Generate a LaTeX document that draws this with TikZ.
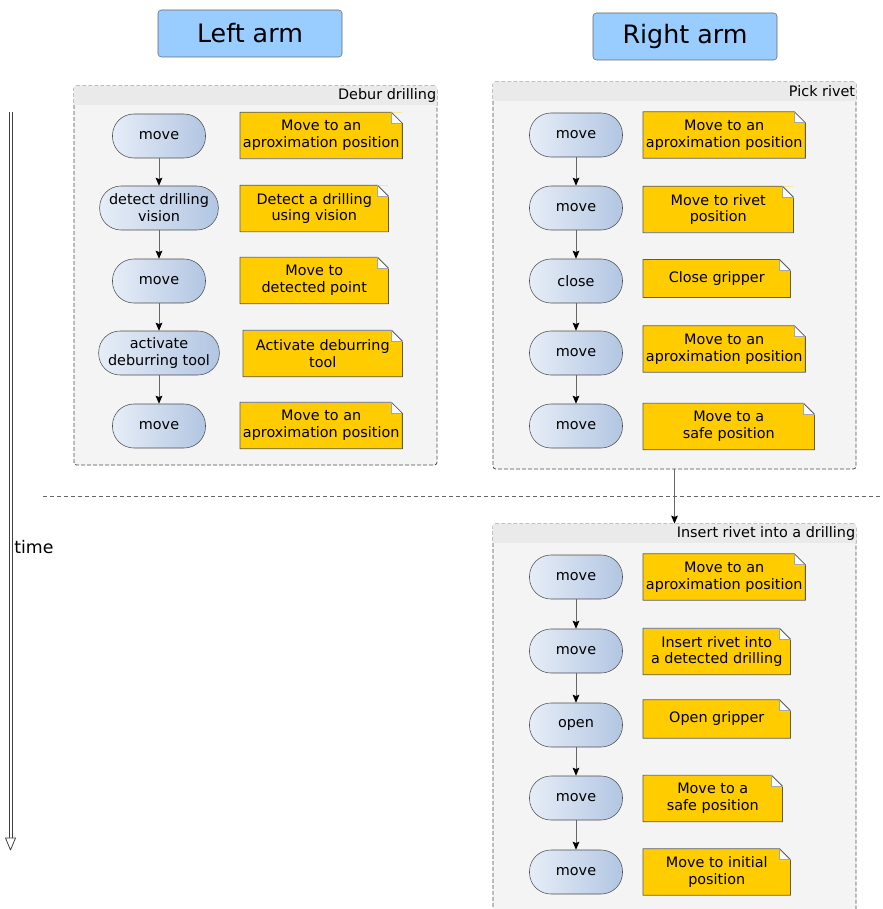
\documentclass[tikz,border=0pt]{standalone}
\usepackage{fontspec}
\setmainfont{DejaVu Sans}
\usetikzlibrary{arrows.meta, fit}

\definecolor{armblue}{HTML}{99CCFF}
\definecolor{actleft}{RGB}{230,237,247}
\definecolor{actright}{RGB}{178,198,226}
\definecolor{noteyellow}{HTML}{FFCC00}
\definecolor{groupbg}{HTML}{F4F4F4}
\definecolor{groupband}{HTML}{EAEAEA}

\begin{document}
\begin{tikzpicture}[
    x=0.75pt, y=-0.75pt,
    armtitle/.style={rectangle, draw=black!60, fill=armblue, rounded corners=2.5pt, minimum width=138pt, minimum height=35.25pt, font=\fontsize{19}{22}\selectfont},
    group/.style={rectangle, draw=black!70, line width=0.6pt, dash pattern=on 3pt off 1.5pt, fill=groupbg, rounded corners=2pt, inner sep=0pt},
    grouplabel/.style={anchor=east, inner sep=0pt, font=\fontsize{10.8}{12.8}\selectfont},
    act/.style={rectangle, rounded corners=16pt, draw=black!70, left color=actleft, right color=actright, minimum width=69.75pt, minimum height=33pt, inner xsep=7pt, align=center, font=\fontsize{10.8}{12.6}\selectfont},
    note/.style={rectangle, fill=noteyellow, anchor=west, align=center, inner sep=2pt, minimum height=34.5pt, font=\fontsize{10.8}{12.6}\selectfont,
        path picture={
            \fill[groupbg] ([shift={(-11,0)}]path picture bounding box.north east) -- (path picture bounding box.north east) -- ([shift={(0,11)}]path picture bounding box.north east) -- cycle;
            \fill[white] ([shift={(-11,0)}]path picture bounding box.north east) -- ([shift={(-11,11)}]path picture bounding box.north east) -- ([shift={(0,11)}]path picture bounding box.north east) -- cycle;
        }},
    noteline/.style={draw=black!65, line width=0.6pt, line join=round},
    foldline/.style={draw=black!35, line width=0.4pt},
    flow/.style={draw=black!60, line width=0.6pt, -{Stealth[color=black, length=6pt, width=5pt, inset=1pt]}},
    timeline/.style={draw=black!75, line width=0.6pt},
    sepline/.style={draw=black!60, line width=0.6pt, dash pattern=on 3pt off 2.25pt}
]
\clip (0,0) rectangle (882,909);

% Arm titles
\node[armtitle] (larm) at (250,33.5) {Left arm};
\node[armtitle] (rarm) at (685,36.5) {Right arm};

% Time axis
\coordinate (tstart) at (10.5,112);
\coordinate (tend) at (10.5,850);
\draw[timeline] ([shift={(-1.5,0)}]tstart) -- ([shift={(-1.5,-12)}]tend);
\draw[timeline] ([shift={(1.5,0)}]tstart) -- ([shift={(1.5,-12)}]tend);
\draw[timeline, line join=round] (tend) -- ++(-5,-12) -- ++(10,0) -- cycle;
\node[anchor=west, inner sep=0pt, font=\fontsize{13}{15}\selectfont] (timelbl) at (14,547) {time};

% Separator
\coordinate (sepL) at (43,496);
\coordinate (sepR) at (882,496);
\draw[sepline] (sepL) -- (sepR);

% Groups
\node[group, fit={(74,86) (437,465)}] (debur) {};
\node[group, fit={(493,82) (856,469)}] (pick) {};
\node[group, fit={(493,524) (856,930)}] (insert) {};
\fill[groupband] ([shift={(0.7,0.7)}]debur.north west) rectangle ([shift={(-0.7,19)}]debur.north east);
\fill[groupband] ([shift={(0.7,0.7)}]pick.north west) rectangle ([shift={(-0.7,19)}]pick.north east);
\fill[groupband] ([shift={(0.7,0.7)}]insert.north west) rectangle ([shift={(-0.7,19)}]insert.north east);
\node[grouplabel] (deburlbl) at ([shift={(-1,10)}]debur.north east) {Debur drilling};
\node[grouplabel] (picklbl) at ([shift={(-1,10)}]pick.north east) {Pick rivet};
\node[grouplabel] (insertlbl) at ([shift={(-1,10)}]insert.north east) {Insert rivet into a drilling};

% Left arm: debur drilling
\node[act] (l1) at (159,136) {move};
\node[act] (l2) at (159,208) {detect drilling\\vision};
\node[act] (l3) at (159,281) {move};
\node[act] (l4) at (159,353) {activate\\deburring tool};
\node[act] (l5) at (159,426) {move};
\node[note, minimum width=120pt] (ln1) at (240,135.5) {Move to an\\aproximation position};
\node[note, minimum width=111pt] (ln2) at (240,208.5) {Detect a drilling\\using vision};
\node[note, minimum width=111pt] (ln3) at (240,280.5) {Move to\\detected point};
\node[note, minimum width=119.25pt] (ln4) at (243,353.5) {Activate deburring\\tool};
\node[note, minimum width=120pt] (ln5) at (240,425.5) {Move to an\\aproximation position};
\draw[flow] (l1) -- (l2);
\draw[flow] (l2) -- (l3);
\draw[flow] (l3) -- (l4);
\draw[flow] (l4) -- (l5);

% Right arm: pick rivet
\node[act] (p1) at (576,135) {move};
\node[act] (p2) at (576,208) {move};
\node[act] (p3) at (576,281) {close};
\node[act] (p4) at (576,353) {move};
\node[act] (p5) at (576,426) {move};
\node[note, minimum width=119.25pt] (pn1) at (643,135) {Move to an\\aproximation position};
\node[note, minimum width=112.5pt] (pn2) at (643,209.5) {Move to rivet\\position};
\node[note, minimum width=110.25pt, minimum height=28pt] (pn3) at (643,278.5) {Close gripper};
\node[note, minimum width=119.25pt] (pn4) at (643,349) {Move to an\\aproximation position};
\node[note, minimum width=128.25pt] (pn5) at (643,426.5) {Move to a\\safe position};
\draw[flow] (p1) -- (p2);
\draw[flow] (p2) -- (p3);
\draw[flow] (p3) -- (p4);
\draw[flow] (p4) -- (p5);

% Right arm: insert rivet
\node[act] (i1) at (576,577) {move};
\node[act] (i2) at (576,651) {move};
\node[act] (i3) at (576,725) {open};
\node[act] (i4) at (576,798) {move};
\node[act] (i5) at (576,872) {move};
\node[note, minimum width=119.25pt] (in1) at (643,577) {Move to an\\aproximation position};
\node[note, minimum width=110.25pt] (in2) at (643,651.5) {Insert rivet into\\a detected drilling};
\node[note, minimum width=110.25pt, minimum height=28.5pt] (in3) at (643,719) {Open gripper};
\node[note, minimum width=104.25pt] (in4) at (643,798.5) {Move to a\\safe position};
\node[note, minimum width=110.25pt] (in5) at (643,872) {Move to initial\\position};
\draw[flow] (i1) -- (i2);
\draw[flow] (i2) -- (i3);
\draw[flow] (i3) -- (i4);
\draw[flow] (i4) -- (i5);

% Note outlines with folded corner
\foreach \n in {ln1,ln2,ln3,ln4,ln5,pn1,pn2,pn3,pn4,pn5,in1,in2,in3,in4,in5} {
    \draw[noteline] (\n.north west) -- ([shift={(-11,0)}]\n.north east) -- ([shift={(0,11)}]\n.north east) -- (\n.south east) -- (\n.south west) -- cycle;
    \draw[foldline] ([shift={(-11,0)}]\n.north east) |- ([shift={(0,11)}]\n.north east);
}

% Group to group
\draw[flow] (pick) -- (insert);

\end{tikzpicture}
\end{document}
